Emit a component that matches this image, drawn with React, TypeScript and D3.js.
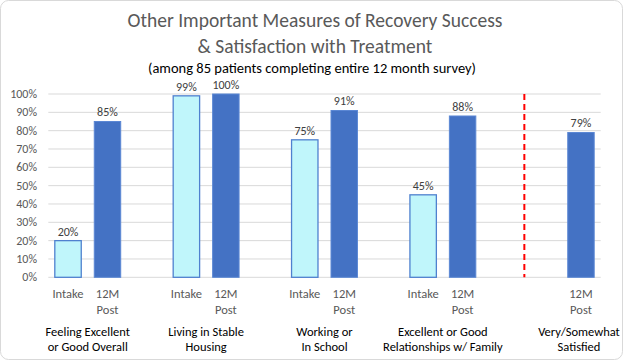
import * as d3 from 'd3';
import React from 'react';

const groupLabels = [
    ['Feeling Excellent', 'or Good Overall'],
    ['Living in Stable', 'Housing'],
    ['Working or', 'In School'],
    ['Excellent or Good', 'Relationships w/ Family'],
    ['Very/Somewhat', 'Satisfied']
];
const intakeValues = [20, 99, 75, 45, null];
const postValues = [85, 100, 91, 88, 79];
const intakeLabel = ['Intake'];
const postLabel = ['12M', 'Post'];
const yTicks = [0, 10, 20, 30, 40, 50, 60, 70, 80, 90, 100];

const W = 625;
const H = 361;
const font = 'Carlito, Lato, "Open Sans", sans-serif';

// one slot per bar, plus an empty slot between the groups
const slotKeys = groupLabels.flatMap((g, i) =>
    i < groupLabels.length - 1 ? [`in${i}`, `post${i}`, `gap${i}`] : [`in${i}`, `post${i}`]
);

const App = () => {
    const x = d3.scaleBand<string>()
        .domain(slotKeys)
        .range([48.3, 600.7])
        .paddingInner(0.33)
        .paddingOuter(0.165);
    const y = d3.scaleLinear().domain([0, 100]).range([277.3, 94]);
    const bw = x.bandwidth();
    const step = x.step();
    const last = groupLabels.length - 1;
    const dividerX = (x(`in${last}`) as number) - step * 0.1;

    return (
        <svg width={W} height={H} style={{ position: 'absolute', left: 0, top: 0, fontFamily: font }}>
            <rect x={0.5} y={0.5} width={W - 3} height={H - 2} rx={8} fill="#fff" stroke="#d9d9d9" />
            <text x={315} y={27} textAnchor="middle" fontSize={19.5} fill="#595959">Other Important Measures of Recovery Success</text>
            <text x={315} y={53} textAnchor="middle" fontSize={19.5} fill="#595959">&amp; Satisfaction with Treatment</text>
            <text x={312} y={73} textAnchor="middle" fontSize={14.5} fill="#000">(among 85 patients completing entire 12 month survey)</text>

            {yTicks.map(t => (
                <g key={t}>
                    <line x1={48.3} x2={600.7} y1={y(t)} y2={y(t)} stroke="#d9d9d9" strokeWidth={1} />
                    <text x={37} y={y(t) + 4} textAnchor="end" fontSize={12} fill="#595959">{t}%</text>
                </g>
            ))}

            {groupLabels.map((g, i) => {
                const xi = x(`in${i}`) as number;
                const xp = x(`post${i}`) as number;
                const vi = intakeValues[i];
                const vp = postValues[i];
                const centers: number[] = [];
                if (vi != null) centers.push(xi + bw / 2);
                if (vp != null) centers.push(xp + bw / 2);
                const gc = (d3.mean(centers) as number) - (vi == null ? 2 : 0);
                return (
                    <g key={i}>
                        {vi != null && (
                            <g>
                                <rect x={xi} y={y(vi)} width={bw} height={y(0) - y(vi)} fill="#c0f6fb" stroke="#4f81cf" strokeWidth={1.3} />
                                <text x={xi + bw / 2} y={y(vi) - 5} textAnchor="middle" fontSize={12} fill="#404040">{vi}%</text>
                                {intakeLabel.map((l, k) => (
                                    <text key={k} x={xi + bw / 2} y={298 + k * 16} textAnchor="middle" fontSize={12.5} fill="#595959">{l}</text>
                                ))}
                            </g>
                        )}
                        {vp != null && (
                            <g>
                                <rect x={xp} y={y(vp)} width={bw} height={y(0) - y(vp)} fill="#4472c4" stroke="#5b87d4" strokeWidth={1} />
                                <text x={xp + bw / 2} y={y(vp) - 5} textAnchor="middle" fontSize={12} fill="#404040">{vp}%</text>
                                {postLabel.map((l, k) => (
                                    <text key={k} x={xp + bw / 2} y={298 + k * 16} textAnchor="middle" fontSize={12.5} fill="#595959">{l}</text>
                                ))}
                            </g>
                        )}
                        {g.map((l, k) => (
                            <text key={k} x={gc} y={336 + k * 15} textAnchor="middle" fontSize={12.5} fill="#000">{l}</text>
                        ))}
                    </g>
                );
            })}

            <line x1={dividerX} x2={dividerX} y1={y(100)} y2={y(0)} stroke="#ff0000" strokeWidth={2} strokeDasharray="6,4" />
        </svg>
    );
};

export default App;
